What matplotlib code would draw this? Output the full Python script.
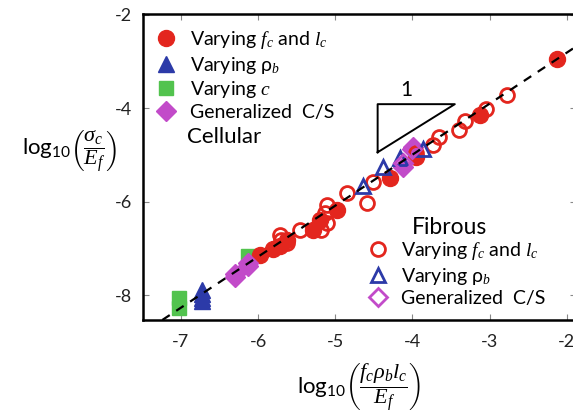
import numpy as np
import matplotlib
matplotlib.use('Agg')
import matplotlib.pyplot as plt
from matplotlib.lines import Line2D

plt.rcParams['font.family'] = ['Lato', 'DejaVu Sans']
plt.rcParams['mathtext.fontset'] = 'custom'
plt.rcParams['mathtext.rm'] = 'Lato'
plt.rcParams['mathtext.it'] = 'Liberation Serif:italic'
plt.rcParams['mathtext.sf'] = 'Lato'

# cellular data (filled symbols)
cell_fc_x = [-2.13, -3.13, -3.95, -4.29, -4.98, -5.20, -5.29, -5.63, -5.72, -5.81, -5.98]
cell_fc_y = [-2.94, -4.15, -5.04, -5.49, -6.17, -6.40, -6.60, -6.81, -6.95, -7.02, -7.13]
cell_rho_x = [-6.73, -6.73, -6.73, -6.73]
cell_rho_y = [-7.88, -7.98, -8.06, -8.13]
cell_c_x = [-7.03, -7.03, -6.13]
cell_c_y = [-8.05, -8.28, -7.16]
cell_cs_x = [-6.30, -6.30, -6.13, -6.13, -3.99, -4.12]
cell_cs_y = [-7.55, -7.62, -7.30, -7.38, -4.82, -5.25]

# fibrous data (open symbols)
fib_fc_x = [-2.78, -3.04, -3.32, -3.39, -3.65, -3.73, -3.95, -4.51, -4.59, -4.85,
            -5.11, -5.13, -5.11, -5.18, -5.46, -5.72, -5.70, -5.63]
fib_fc_y = [-3.72, -4.01, -4.26, -4.47, -4.61, -4.79, -4.96, -5.57, -6.03, -5.81,
            -6.06, -6.24, -6.45, -6.60, -6.60, -6.70, -6.81, -6.88]
fib_rho_x = [-4.64, -4.38, -4.16, -3.86]
fib_rho_y = [-5.67, -5.25, -5.07, -4.86]
fib_cs_x = [-4.00, -4.12]
fib_cs_y = [-4.88, -5.18]

# fitted line log(sigma/E) = slope * log(x) + icpt
fit_slope = 1.092
fit_icpt = -0.624

red = '#e3261e'
blue = '#2c3aa8'
green = '#52c34e'
purple = '#c24bc9'


def make_plot():
    fig = plt.figure(figsize=(5.73, 4.15), dpi=100)
    ax = fig.add_axes([143 / 573, 1 - 320 / 415, 433 / 573, 306 / 415])

    ax.plot(cell_fc_x, cell_fc_y, 'o', color=red, ms=11.5, mec=red, zorder=3)
    ax.plot(cell_rho_x, cell_rho_y, '^', color=blue, ms=11, mec=blue, zorder=3)
    ax.plot(cell_c_x, cell_c_y, 's', color=green, ms=10, mec=green, zorder=2)
    ax.plot(cell_cs_x, cell_cs_y, 'D', color=purple, ms=10, mec=purple, zorder=3)

    ax.plot(fib_fc_x, fib_fc_y, 'o', mfc='none', mec=red, mew=2, ms=10, zorder=4)
    ax.plot(fib_rho_x, fib_rho_y, '^', mfc='none', mec=blue, mew=2, ms=10, zorder=4)
    ax.plot(fib_cs_x, fib_cs_y, 'D', mfc='none', mec=purple, mew=2, ms=9, zorder=4)

    xl = np.array([-7.6, -1.5])
    ax.plot(xl, fit_slope * xl + fit_icpt, '--', color='k', lw=1.6,
            dashes=(4, 3.5), zorder=5)

    # slope triangle
    ax.plot([-4.45, -4.45, -3.45, -4.45], [-4.94, -3.91, -3.91, -4.94],
            color='k', lw=1.4, zorder=2)
    ax.text(-4.08, -3.6, '1', fontsize=15, ha='center', va='center')

    ax.set_xlim(-7.49, -1.88)
    ax.set_ylim(-8.53, -1.98)
    ax.set_xticks([-7, -6, -5, -4, -3, -2])
    ax.set_yticks([-8, -6, -4, -2])
    ax.set_xticklabels(['-7', '-6', '-5', '-4', '-3', '-2'])
    ax.set_yticklabels(['-8', '-6', '-4', '-2'])
    ax.tick_params(direction='in', top=True, right=True, length=4, width=0.8,
                   color='#888888', labelsize=13, labelcolor='#222222')
    ax.tick_params(axis='x', pad=10)
    ax.tick_params(axis='y', pad=8)
    for sp in ax.spines.values():
        sp.set_linewidth(1.8)

    ax.set_xlabel(r'log$_{10}\left(\dfrac{f_c\rho_b l_c}{E_f}\right)$', fontsize=16,
                  va='center')
    ax.xaxis.set_label_coords(0.5, -0.222)
    ax.set_ylabel(r'log$_{10}\left(\dfrac{\sigma_c}{E_f}\right)$', fontsize=16,
                  rotation=0, ha='center', va='center')
    ax.yaxis.set_label_coords(-0.17, 0.55)

    cell_handles = [
        Line2D([], [], ls='none', marker='o', color=red, ms=11.5),
        Line2D([], [], ls='none', marker='^', color=blue, ms=11),
        Line2D([], [], ls='none', marker='s', color=green, ms=10),
        Line2D([], [], ls='none', marker='D', color=purple, ms=10),
    ]
    cell_labels = [r'Varying $f_c$ and $l_c$', r'Varying ρ$_{b}$', r'Varying $c$', 'Generalized  C/S']
    leg1 = ax.legend(cell_handles, cell_labels, loc='upper left', frameon=False,
                     fontsize=14, handlelength=1.0, handletextpad=0.7,
                     labelspacing=0.18, borderaxespad=0.3, bbox_to_anchor=(0.0, 0.995))
    ax.add_artist(leg1)
    ax.text(-6.92, -4.62, 'Cellular', fontsize=16, ha='left', va='center')

    fib_handles = [
        Line2D([], [], ls='none', marker='o', mfc='none', mec=red, mew=2, ms=10),
        Line2D([], [], ls='none', marker='^', mfc='none', mec=blue, mew=2, ms=10),
        Line2D([], [], ls='none', marker='D', mfc='none', mec=purple, mew=2, ms=9),
    ]
    fib_labels = [r'Varying $f_c$ and $l_c$', r'Varying ρ$_{b}$', 'Generalized  C/S']
    ax.legend(fib_handles, fib_labels, loc='lower left', frameon=False,
              fontsize=14, handlelength=1.0, handletextpad=0.7,
              labelspacing=0.18, bbox_to_anchor=(0.48, -0.015))
    ax.text(-4.0, -6.55, 'Fibrous', fontsize=16.5, ha='left', va='center')

    fig.savefig('out.png', dpi=100)


if __name__ == '__main__':
    make_plot()
